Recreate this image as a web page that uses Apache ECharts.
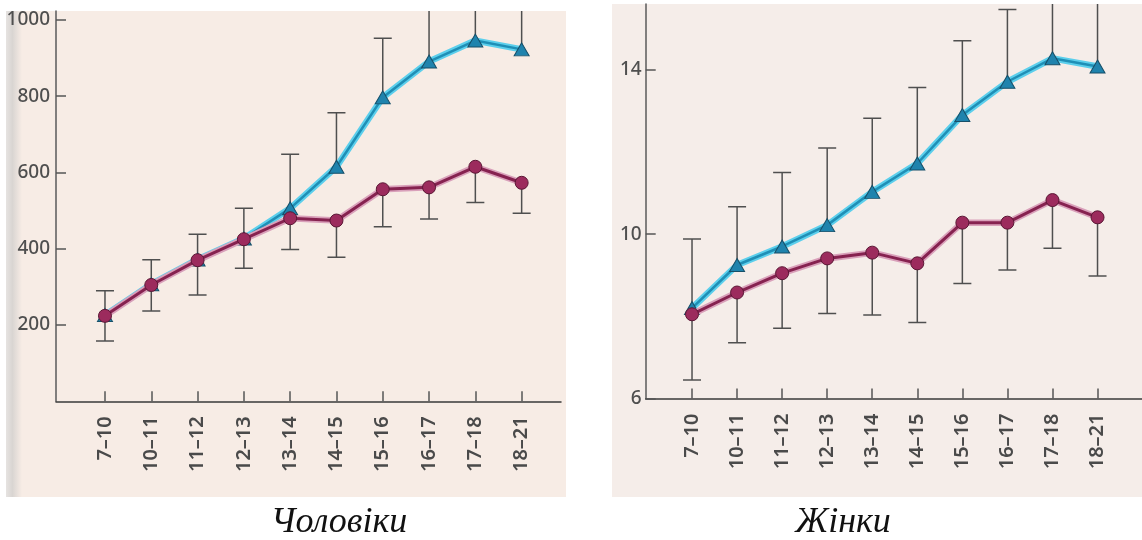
<!DOCTYPE html>
<html>
<head>
<meta charset="utf-8">
<script src="https://cdn.jsdelivr.net/npm/echarts@6/dist/echarts.min.js"></script>
<style>
  html, body { margin: 0; padding: 0; background: #ffffff; }
  #chart { width: 1142px; height: 540px; }
</style>
</head>
<body>
<div id="chart"></div>
<script>
// Age groups along the x axis (years)
const ageGroups = ['7\u201310', '10\u201311', '11\u201312', '12\u201313', '13\u201314',
                   '14\u201315', '15\u201316', '16\u201317', '17\u201318', '18\u201321'];

// Men: triangle series (upper curve) and circle series (lower curve)
const menTriangle     = [226, 307, 372, 427, 506, 615, 797, 891, 946, 923];
const menTriangleHigh = [290, 371, 438, 506, 648, 757, 952, 1065, 1080, 1070];
const menCircle       = [224, 305, 370, 425, 480, 474, 556, 561, 615, 573];
const menCircleLow    = [158, 237, 279, 349, 398, 378, 458, 478, 521, 493];

// Women: triangle series (upper curve) and circle series (lower curve)
const womenTriangle     = [8.20, 9.25, 9.70, 10.22, 11.03, 11.72, 12.90, 13.71, 14.28, 14.08];
const womenTriangleHigh = [9.88, 10.67, 11.50, 12.10, 12.82, 13.57, 14.71, 15.47, 16.10, 16.00];
const womenCircle       = [8.05, 8.58, 9.05, 9.41, 9.55, 9.29, 10.28, 10.28, 10.83, 10.41];
const womenCircleLow    = [6.45, 7.36, 7.71, 8.07, 8.03, 7.85, 8.80, 9.13, 9.66, 8.98];

// Axis tick labels
const menTicks = [200, 400, 600, 800, 1000];
const womenTicks = [6, 10, 14];

const panelTitles = ['Чоловіки', 'Жінки'];

const idx = ageGroups.map((_, i) => i);
const pts = arr => arr.map((v, i) => [i, v]);
const bars = (from, to) => from.map((v, i) => [i, v, to[i]]);

const labelFont = '"Noto Sans", "DejaVu Sans", sans-serif';

function xAxisFor(grid, min, max) {
  return {
    type: 'value', gridIndex: grid, min: min, max: max,
    splitLine: { show: false },
    axisLine: { show: true, onZero: false, lineStyle: { color: '#3a3a3a', width: 1.5 } },
    axisTick: { show: true, inside: true, length: 10, customValues: idx,
                lineStyle: { color: '#555', width: 1.5 } },
    axisLabel: { show: true, customValues: idx, rotate: 90, margin: 15,
                 formatter: v => ageGroups[Math.round(v)] || '',
                 fontFamily: labelFont, fontSize: 20, fontWeight: 600, color: '#4a4a4a' }
  };
}

function yAxisFor(grid, min, max, ticks, margin) {
  return {
    type: 'value', gridIndex: grid, min: min, max: max,
    splitLine: { show: false },
    axisLine: { show: true, onZero: false, lineStyle: { color: '#5a5a5a', width: 1.5 } },
    axisTick: { show: true, inside: true, length: 10, customValues: ticks,
                lineStyle: { color: '#555', width: 1.5 } },
    axisLabel: { show: true, customValues: ticks, margin: margin,
                 formatter: v => String(v),
                 fontFamily: labelFont, fontSize: 19, fontWeight: 500, color: '#4f4f4f' }
  };
}

function errorBarRenderer(params, api) {
  const x = api.value(0);
  const p0 = api.coord([x, api.value(1)]);
  const p1 = api.coord([x, api.value(2)]);
  const half = 9;
  const style = { stroke: '#4f4f4f', lineWidth: 1.5 };
  return {
    type: 'group',
    children: [
      { type: 'line', shape: { x1: p0[0], y1: p0[1], x2: p1[0], y2: p1[1] }, style: style },
      { type: 'line', shape: { x1: p1[0] - half, y1: p1[1], x2: p1[0] + half, y2: p1[1] }, style: style }
    ]
  };
}

function panelSeries(grid, tri, triHigh, dot, dotLow) {
  return [
    { type: 'custom', xAxisIndex: grid, yAxisIndex: grid, clip: true, z: 1,
      renderItem: errorBarRenderer, encode: { x: 0, y: [1, 2] },
      data: bars(tri, triHigh) },
    { type: 'custom', xAxisIndex: grid, yAxisIndex: grid, clip: true, z: 1,
      renderItem: errorBarRenderer, encode: { x: 0, y: [1, 2] },
      data: bars(dot, dotLow) },
    // triangle curve: light cyan halo under a darker teal core
    { type: 'line', xAxisIndex: grid, yAxisIndex: grid, z: 2, symbol: 'none',
      lineStyle: { color: '#5ccfec', width: 6.5 }, data: pts(tri), silent: true },
    { type: 'line', xAxisIndex: grid, yAxisIndex: grid, z: 3,
      symbol: 'triangle', symbolSize: [15, 13],
      itemStyle: { color: '#1f83ad', borderColor: '#174f68', borderWidth: 1 },
      lineStyle: { color: '#1f8fb6', width: 2.5 }, data: pts(tri) },
    // circle curve: soft pink halo under a dark magenta core
    { type: 'line', xAxisIndex: grid, yAxisIndex: grid, z: 4, symbol: 'none',
      lineStyle: { color: '#d9a0ba', width: 6.5 }, data: pts(dot), silent: true },
    { type: 'line', xAxisIndex: grid, yAxisIndex: grid, z: 5,
      symbol: 'circle', symbolSize: 13,
      itemStyle: { color: '#9c2b5d', borderColor: '#5b1735', borderWidth: 1 },
      lineStyle: { color: '#862250', width: 3 }, data: pts(dot) }
  ];
}

const chart = echarts.init(document.getElementById('chart'), null, { renderer: 'canvas' });

chart.setOption({
  animation: false,
  backgroundColor: '#ffffff',
  grid: [
    { left: 56, top: 11, width: 505, height: 390.25 },
    { left: 645.7, top: 4.1, width: 510, height: 394.4 }
  ],
  xAxis: [
    xAxisFor(0, -1.058, 9.85),
    xAxisFor(1, -1.028, 9.987)
  ],
  yAxis: [
    yAxisFor(0, 0, 1023.6, menTicks, 6),
    yAxisFor(1, 6, 15.6, womenTicks, 4)
  ],
  series: [
    ...panelSeries(0, menTriangle, menTriangleHigh, menCircle, menCircleLow),
    ...panelSeries(1, womenTriangle, womenTriangleHigh, womenCircle, womenCircleLow)
  ],
  graphic: [
    // paper-toned panels
    { type: 'rect', z: -10, silent: true, shape: { x: 6, y: 11, width: 560, height: 486 },
      style: { fill: '#f7ece5' } },
    { type: 'rect', z: -9, silent: true, shape: { x: 6, y: 11, width: 16, height: 486 },
      style: { fill: new echarts.graphic.LinearGradient(0, 0, 1, 0, [
        { offset: 0, color: '#e6e3e1' }, { offset: 0.4, color: '#d9d5d2' }, { offset: 1, color: '#f7ece5' }
      ]) } },
    { type: 'rect', z: -10, silent: true, shape: { x: 612, y: 4, width: 530, height: 493 },
      style: { fill: '#f5ede9' } },
    // panel captions
    { type: 'text', z: 10, silent: true,
      style: { text: panelTitles[0], x: 339, y: 523, fill: '#111',
               font: 'italic 36px "Liberation Serif", "DejaVu Serif", serif',
               textAlign: 'center', textVerticalAlign: 'middle' } },
    { type: 'text', z: 10, silent: true,
      style: { text: panelTitles[1], x: 843, y: 523, fill: '#111',
               font: 'italic 36px "Liberation Serif", "DejaVu Serif", serif',
               textAlign: 'center', textVerticalAlign: 'middle' } }
  ]
});
</script>
</body>
</html>
